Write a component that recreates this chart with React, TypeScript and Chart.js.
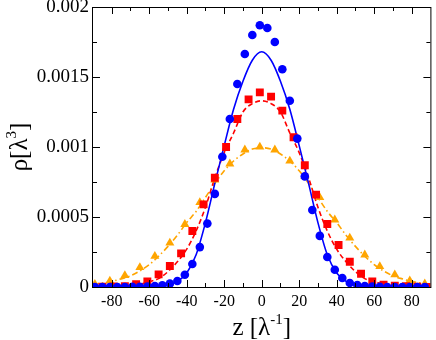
import React, { useEffect, useRef } from 'react';
import { Chart, registerables } from 'chart.js';

Chart.register(...registerables);

const xTickLabels = ['-80', '-60', '-40', '-20', '0', '20', '40', '60', '80'];
const yTickLabels = ['0', '0.0005', '0.001', '0.0015', '0.002'];

// blue circles
const zBlue = [-89, -85, -81, -77, -73, -69, -65, -61, -57, -53, -49, -45, -41, -37, -33, -29, -25, -21, -17, -13, -9, -5, -1, 3, 7, 11, 15, 19, 23, 27, 31, 35, 39, 43, 47, 51, 55, 59, 63, 67, 71, 75, 79, 83, 87];
const rhoBlue = [0, 0, 0, 0, 0, 0.000001, 0.000002, 0.000003, 0.000006, 0.000012, 0.000024, 0.000043, 0.000088, 0.000164, 0.000285, 0.000453, 0.000665, 0.00093, 0.0012, 0.00145, 0.001664, 0.0018, 0.00187, 0.00185, 0.00175, 0.001555, 0.00133, 0.00106, 0.00079, 0.00055, 0.000365, 0.000214, 0.000123, 0.000064, 0.000029, 0.000014, 0.000006, 0.000003, 0.000001, 0, 0, 0, 0, 0, 0];

// red squares
const zRed = [-85, -79, -73, -67, -61, -55, -49, -43, -37, -31, -25, -19, -13, -7, -1, 5, 11, 17, 23, 29, 35, 41, 47, 53, 59, 65, 71, 77, 83, 89];
const rhoRed = [0.000002, 0.000003, 0.000006, 0.00002, 0.00004, 0.00009, 0.00015, 0.00024, 0.0004, 0.00059, 0.00078, 0.001, 0.0012, 0.00134, 0.00139, 0.00136, 0.00126, 0.00107, 0.00087, 0.00066, 0.00045, 0.0003, 0.00018, 0.000095, 0.00004, 0.000016, 0.00001, 0.000005, 0.000002, 0.000001];

// orange triangles
const zOrange = [-89, -81, -73, -65, -57, -49, -41, -33, -25, -17, -9, -1, 7, 15, 23, 31, 39, 47, 55, 63, 71, 79, 87];
const rhoOrange = [0.00002, 0.000043, 0.000082, 0.00014, 0.00022, 0.000315, 0.000448, 0.000604, 0.000765, 0.00088, 0.00098, 0.001, 0.00098, 0.0009, 0.00079, 0.00064, 0.00048, 0.00035, 0.00023, 0.000147, 0.000088, 0.000045, 0.000023];

// fitted curves
const zFit = [-90, -85, -80, -75, -70, -65, -60, -55, -50, -45, -40, -35, -30, -25, -20, -15, -10, -5, 0, 5, 10, 15, 20, 25, 30, 35, 40, 45, 50, 55, 60, 65, 70, 75, 80, 85, 90];
const fitBlue = [0, 0, 0, 0, 0, 0, 0.000001, 0.000005, 0.000015, 0.00004, 0.0001, 0.00023, 0.00046, 0.00074, 0.00101, 0.00127, 0.00147, 0.00162, 0.00168, 0.00162, 0.00147, 0.00127, 0.00101, 0.00074, 0.00046, 0.00023, 0.0001, 0.00004, 0.000015, 0.000005, 0.000001, 0, 0, 0, 0, 0, 0];
const fitRed = [0, 0.000001, 0.000002, 0.000005, 0.00001, 0.00002, 0.000038, 0.00006, 0.00011, 0.00018, 0.00027, 0.0004, 0.00057, 0.00078, 0.00096, 0.0011, 0.00125, 0.00131, 0.00133, 0.00131, 0.00125, 0.0011, 0.00096, 0.00078, 0.00057, 0.0004, 0.00027, 0.00018, 0.00011, 0.00006, 0.000038, 0.00002, 0.00001, 0.000005, 0.000002, 0.000001, 0];
const fitOrange = [0.00002, 0.000028, 0.00004, 0.000058, 0.00008, 0.000115, 0.00016, 0.00022, 0.00029, 0.00037, 0.00046, 0.00054, 0.00064, 0.00074, 0.00083, 0.0009, 0.00095, 0.000985, 0.000995, 0.000985, 0.00095, 0.0009, 0.00083, 0.00074, 0.00064, 0.00054, 0.00046, 0.00037, 0.00029, 0.00022, 0.00016, 0.000115, 0.00008, 0.000058, 0.00004, 0.000028, 0.00002];

const BLUE = '#0000ff';
const RED = '#ff0000';
const ORANGE = '#ffa500';
const FONT = "'Liberation Serif', 'DejaVu Serif', serif";

function pts(xs: number[], ys: number[]) {
  return xs.map((x, i) => ({ x, y: ys[i] }));
}

type Part = { t: string; sup?: boolean };

function drawParts(ctx: CanvasRenderingContext2D, parts: Part[], cx: number, baseline: number, size: number, supSize: number, raise: number) {
  const widths = parts.map((p) => {
    ctx.font = `${p.sup ? supSize : size}px ${FONT}`;
    return ctx.measureText(p.t).width;
  });
  const total = widths.reduce((a, b) => a + b, 0);
  let x = cx - total / 2;
  ctx.textAlign = 'left';
  ctx.textBaseline = 'alphabetic';
  parts.forEach((p, i) => {
    ctx.font = `${p.sup ? supSize : size}px ${FONT}`;
    ctx.fillText(p.t, x, p.sup ? baseline - raise : baseline);
    x += widths[i];
  });
}

const decorPlugin = {
  id: 'decor',
  afterDraw(chart: any) {
    const { ctx, chartArea: a, scales } = chart;
    const xs = scales.x;
    const ys = scales.y;
    ctx.save();
    ctx.strokeStyle = '#000';
    ctx.lineWidth = 1;
    ctx.beginPath();
    xs.ticks.forEach((t: any) => {
      if (t.value <= -90 || t.value >= 90) return;
      const px = Math.round(xs.getPixelForValue(t.value)) + 0.5;
      const major = Math.abs(Math.round(t.value) % 20) === 0;
      const len = major ? 7 : 4;
      ctx.moveTo(px, a.bottom);
      ctx.lineTo(px, a.bottom - len);
      ctx.moveTo(px, a.top);
      ctx.lineTo(px, a.top + len);
    });
    ys.ticks.forEach((t: any, i: number) => {
      if (t.value <= 1e-9 || t.value >= 0.002 - 1e-9) return;
      const py = Math.round(ys.getPixelForValue(t.value)) + 0.5;
      const len = i % 2 === 0 ? 7 : 4;
      ctx.moveTo(a.left, py);
      ctx.lineTo(a.left + len, py);
      ctx.moveTo(a.right, py);
      ctx.lineTo(a.right - len, py);
    });
    ctx.stroke();
    ctx.strokeRect(a.left - 0.5, a.top + 0.5, a.right - a.left + 1, a.bottom - a.top);

    ctx.fillStyle = '#000';
    // x title
    drawParts(ctx, [{ t: 'z [λ' }, { t: '-1', sup: true }, { t: ']' }], (a.left + a.right) / 2, 335, 25, 15, 11);
    // y title
    ctx.save();
    ctx.translate(27, (a.top + a.bottom) / 2);
    ctx.rotate(-Math.PI / 2);
    drawParts(ctx, [{ t: 'ρ[λ' }, { t: '3', sup: true }, { t: ']' }], 0, 0, 25, 15, 11);
    ctx.restore();
    ctx.restore();
  },
};

export default function App() {
  const ref = useRef<HTMLCanvasElement>(null);
  useEffect(() => {
    document.body.style.margin = '0';
    if (!ref.current) return;
    const chart = new Chart(ref.current, {
      type: 'line',
      data: {
        datasets: [
          {
            data: pts(zBlue, rhoBlue),
            showLine: false,
            pointStyle: 'circle',
            pointRadius: 4.3,
            backgroundColor: BLUE,
            borderColor: BLUE,
            pointBorderWidth: 0,
          },
          {
            data: pts(zRed, rhoRed),
            showLine: false,
            pointStyle: 'rect',
            pointRadius: 5.6,
            backgroundColor: RED,
            borderColor: RED,
            pointBorderWidth: 0,
          },
          {
            data: pts(zOrange, rhoOrange),
            showLine: false,
            pointStyle: 'triangle',
            pointRadius: 5.2,
            backgroundColor: ORANGE,
            borderColor: ORANGE,
            pointBorderWidth: 0,
          },
          {
            data: pts(zFit, fitBlue),
            borderColor: BLUE,
            borderWidth: 1.6,
            pointRadius: 0,
            cubicInterpolationMode: 'monotone',
            fill: false,
          },
          {
            data: pts(zFit, fitRed),
            borderColor: RED,
            borderWidth: 1.6,
            borderDash: [5, 3],
            pointRadius: 0,
            cubicInterpolationMode: 'monotone',
            fill: false,
          },
          {
            data: pts(zFit, fitOrange),
            borderColor: ORANGE,
            borderWidth: 1.6,
            borderDash: [6, 3, 1.5, 3],
            pointRadius: 0,
            cubicInterpolationMode: 'monotone',
            fill: false,
          },
        ],
      },
      options: {
        responsive: false,
        animation: false,
        layout: { padding: { top: 7, right: 3, left: 0, bottom: 0 } },
        plugins: {
          legend: { display: false },
          tooltip: { enabled: false },
          title: { display: false },
        },
        scales: {
          x: {
            type: 'linear',
            min: -90,
            max: 90,
            grid: { display: false, drawTicks: false },
            border: { display: false },
            ticks: {
              stepSize: 10,
              autoSkip: false,
              maxRotation: 0,
              padding: 5,
              color: '#000',
              font: { family: FONT, size: 16 },
              callback: (v: any) => {
                const s = String(Math.round(Number(v)));
                return xTickLabels.includes(s) ? s : '';
              },
            },
            afterFit: (s: any) => {
              s.height = 53;
              s.paddingLeft = 0;
              s.paddingRight = 0;
            },
          },
          y: {
            type: 'linear',
            min: 0,
            max: 0.002,
            grid: { display: false, drawTicks: false },
            border: { display: false },
            ticks: {
              stepSize: 0.00025,
              autoSkip: false,
              padding: 4,
              color: '#000',
              font: { family: FONT, size: 19 },
              callback: (v: any) => {
                const lab = yTickLabels.find((l) => Math.abs(Number(l) - Number(v)) < 1e-9);
                return lab !== undefined ? lab : '';
              },
            },
            afterFit: (s: any) => {
              s.width = 93;
              s.paddingTop = 0;
              s.paddingBottom = 0;
            },
          },
        },
      },
      plugins: [decorPlugin],
    } as any);
    return () => chart.destroy();
  }, []);
  return (
    <div style={{ width: 436, height: 340 }}>
      <canvas ref={ref} width={436} height={340} />
    </div>
  );
}
